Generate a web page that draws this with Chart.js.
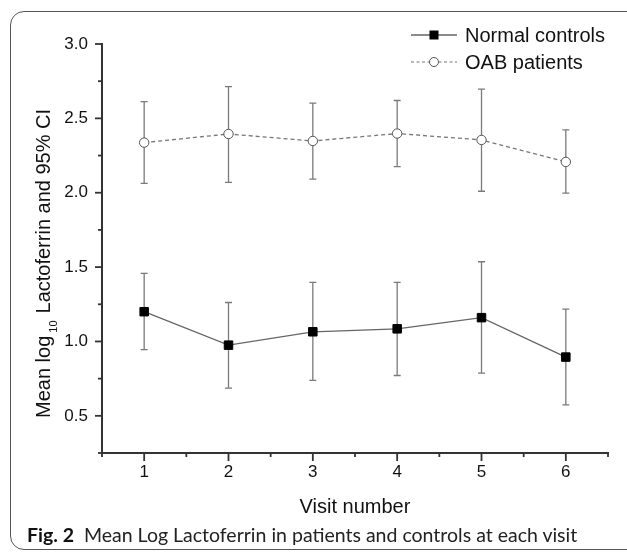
<!DOCTYPE html>
<html>
<head>
<meta charset="utf-8">
<script src="https://cdn.jsdelivr.net/npm/chart.js@4.4.1/dist/chart.umd.min.js"></script>
<style>
  html, body { margin: 0; padding: 0; background: #fff; width: 627px; height: 552px; overflow: hidden; }
  #frame { position: absolute; left: 10px; top: 11px; width: 660px; height: 539px; border: 1.3px solid #555; border-radius: 14px; box-sizing: border-box; }
  #wrap { position: absolute; left: 0; top: 0; width: 627px; height: 552px; }
  #caption { position: absolute; left: 27px; top: 525px; font-family: Lato, "Noto Sans", sans-serif; font-size: 19.5px; line-height: 19px; color: #222; white-space: pre; }
  #caption b { font-weight: 700; color: #111; }
</style>
</head>
<body>
<div id="frame"></div>
<div id="wrap"><canvas id="c" width="627" height="552"></canvas></div>
<div id="caption"><b>Fig. 2</b>  Mean Log Lactoferrin in patients and controls at each visit</div>
<script>
// ---- Data ----
const visits = [1, 2, 3, 4, 5, 6];
const normalMean  = [1.20, 0.975, 1.065, 1.085, 1.16, 0.895];
const normalLower = [0.945, 0.686, 0.738, 0.771, 0.787, 0.573];
const normalUpper = [1.458, 1.262, 1.397, 1.397, 1.536, 1.217];
const oabMean  = [2.337, 2.395, 2.348, 2.398, 2.355, 2.207];
const oabLower = [2.063, 2.070, 2.092, 2.175, 2.010, 1.997];
const oabUpper = [2.612, 2.713, 2.602, 2.620, 2.696, 2.422];
const seriesNames = ['Normal controls', 'OAB patients'];
const xTitle = 'Visit number';
const yTitleParts = ['Mean log', '10', 'Lactoferrin and 95% CI'];

const AX = '#333';
const TITLEFONT = '20px "Liberation Sans", Arial, sans-serif';

const errorBars = {
  id: 'errorBars',
  beforeDatasetsDraw(chart) {
    const {ctx, scales: {x, y}} = chart;
    const sets = [[normalLower, normalUpper], [oabLower, oabUpper]];
    ctx.save();
    ctx.strokeStyle = '#7a7a7a';
    ctx.lineWidth = 1.3;
    sets.forEach(([lo, hi]) => {
      visits.forEach((v, i) => {
        const px = x.getPixelForValue(v);
        const y1 = y.getPixelForValue(lo[i]);
        const y2 = y.getPixelForValue(hi[i]);
        ctx.beginPath();
        ctx.moveTo(px, y1); ctx.lineTo(px, y2);
        ctx.moveTo(px - 3.5, y1); ctx.lineTo(px + 3.5, y1);
        ctx.moveTo(px - 3.5, y2); ctx.lineTo(px + 3.5, y2);
        ctx.stroke();
      });
    });
    ctx.restore();
  }
};

const decorations = {
  id: 'decorations',
  afterDraw(chart) {
    const {ctx, chartArea: ca, scales: {x, y}} = chart;
    ctx.save();
    // tick marks
    ctx.strokeStyle = AX;
    ctx.lineWidth = 1.8;
    y.ticks.forEach(t => {
      const py = y.getPixelForValue(t.value);
      const major = Math.abs(t.value * 2 - Math.round(t.value * 2)) < 1e-9;
      const len = major ? 7 : 4;
      ctx.beginPath(); ctx.moveTo(ca.left - len, py); ctx.lineTo(ca.left, py); ctx.stroke();
    });
    x.ticks.forEach(t => {
      const px = x.getPixelForValue(t.value);
      const major = Math.abs(t.value - Math.round(t.value)) < 1e-9;
      const len = major ? 8 : 4;
      ctx.beginPath(); ctx.moveTo(px, ca.bottom); ctx.lineTo(px, ca.bottom + len); ctx.stroke();
    });
    // x title
    ctx.fillStyle = '#111';
    ctx.font = TITLEFONT;
    ctx.textAlign = 'center';
    ctx.textBaseline = 'alphabetic';
    ctx.fillText(xTitle, (ca.left + ca.right) / 2, 513);
    // y title (rotated, with subscript)
    ctx.save();
    ctx.translate(50, 418);
    ctx.rotate(-Math.PI / 2);
    ctx.textAlign = 'left';
    ctx.font = TITLEFONT;
    ctx.fillText(yTitleParts[0], 0, 0);
    let off = ctx.measureText(yTitleParts[0]).width + 3;
    ctx.font = '11px "Liberation Sans", Arial, sans-serif';
    ctx.fillText(yTitleParts[1], off, 7);
    off += ctx.measureText(yTitleParts[1]).width + 7;
    ctx.font = TITLEFONT;
    ctx.fillText(yTitleParts[2], off, 0);
    ctx.restore();
    // legend
    const lx1 = 411, lx2 = 457, mx = 434, tx = 465;
    const rows = [35, 62];
    ctx.font = TITLEFONT;
    ctx.textAlign = 'left';
    // Normal controls
    ctx.strokeStyle = '#666'; ctx.lineWidth = 1.3; ctx.setLineDash([]);
    ctx.beginPath(); ctx.moveTo(lx1, rows[0]); ctx.lineTo(lx2, rows[0]); ctx.stroke();
    ctx.fillStyle = '#000';
    ctx.fillRect(mx - 4.5, rows[0] - 4.5, 9, 9);
    ctx.fillStyle = '#111';
    ctx.fillText(seriesNames[0], tx, 42);
    // OAB patients
    ctx.strokeStyle = '#777'; ctx.lineWidth = 1.2; ctx.setLineDash([3, 2.5]);
    ctx.beginPath(); ctx.moveTo(lx1, rows[1]); ctx.lineTo(lx2, rows[1]); ctx.stroke();
    ctx.setLineDash([]);
    ctx.fillStyle = '#fff'; ctx.strokeStyle = '#555'; ctx.lineWidth = 1;
    ctx.beginPath(); ctx.arc(mx, rows[1], 4.5, 0, Math.PI * 2); ctx.fill(); ctx.stroke();
    ctx.fillStyle = '#111';
    ctx.fillText(seriesNames[1], tx, 69);
    ctx.restore();
  }
};

new Chart(document.getElementById('c'), {
  type: 'line',
  data: {
    datasets: [
      {
        label: seriesNames[0],
        data: visits.map((v, i) => ({x: v, y: normalMean[i]})),
        borderColor: '#666', borderWidth: 1.3,
        pointStyle: 'rect', pointRadius: 6,
        pointBackgroundColor: '#000', pointBorderColor: '#000', pointBorderWidth: 1,
        tension: 0, fill: false
      },
      {
        label: seriesNames[1],
        data: visits.map((v, i) => ({x: v, y: oabMean[i]})),
        borderColor: '#777', borderWidth: 1.3, borderDash: [4, 3],
        pointStyle: 'circle', pointRadius: 4.7,
        pointBackgroundColor: '#fff', pointBorderColor: '#555', pointBorderWidth: 1,
        tension: 0, fill: false
      }
    ]
  },
  options: {
    responsive: false,
    animation: false,
    devicePixelRatio: 1,
    layout: { padding: { left: 0, right: 19, top: 44, bottom: 0 } },
    plugins: { legend: { display: false }, tooltip: { enabled: false } },
    scales: {
      x: {
        type: 'linear', min: 0.5, max: 6.5,
        grid: { display: false, drawTicks: false },
        border: { display: true, color: AX, width: 2 },
        afterFit(s) { s.height = 99; },
        ticks: {
          stepSize: 0.5, autoSkip: false, maxRotation: 0, padding: 9,
          color: '#111', font: { family: '"Liberation Sans", Arial, sans-serif', size: 17 },
          callback: v => Math.abs(v - Math.round(v)) < 1e-9 ? String(Math.round(v)) : ''
        }
      },
      y: {
        type: 'linear', min: 0.25, max: 3.0,
        grid: { display: false, drawTicks: false },
        border: { display: true, color: AX, width: 2 },
        afterFit(s) { s.width = 102; },
        ticks: {
          stepSize: 0.25, autoSkip: false, padding: 14,
          color: '#111', font: { family: '"Liberation Sans", Arial, sans-serif', size: 17 },
          callback: v => Math.abs(v * 2 - Math.round(v * 2)) < 1e-9 ? v.toFixed(1) : ''
        }
      }
    }
  },
  plugins: [errorBars, decorations]
});
</script>
</body>
</html>
